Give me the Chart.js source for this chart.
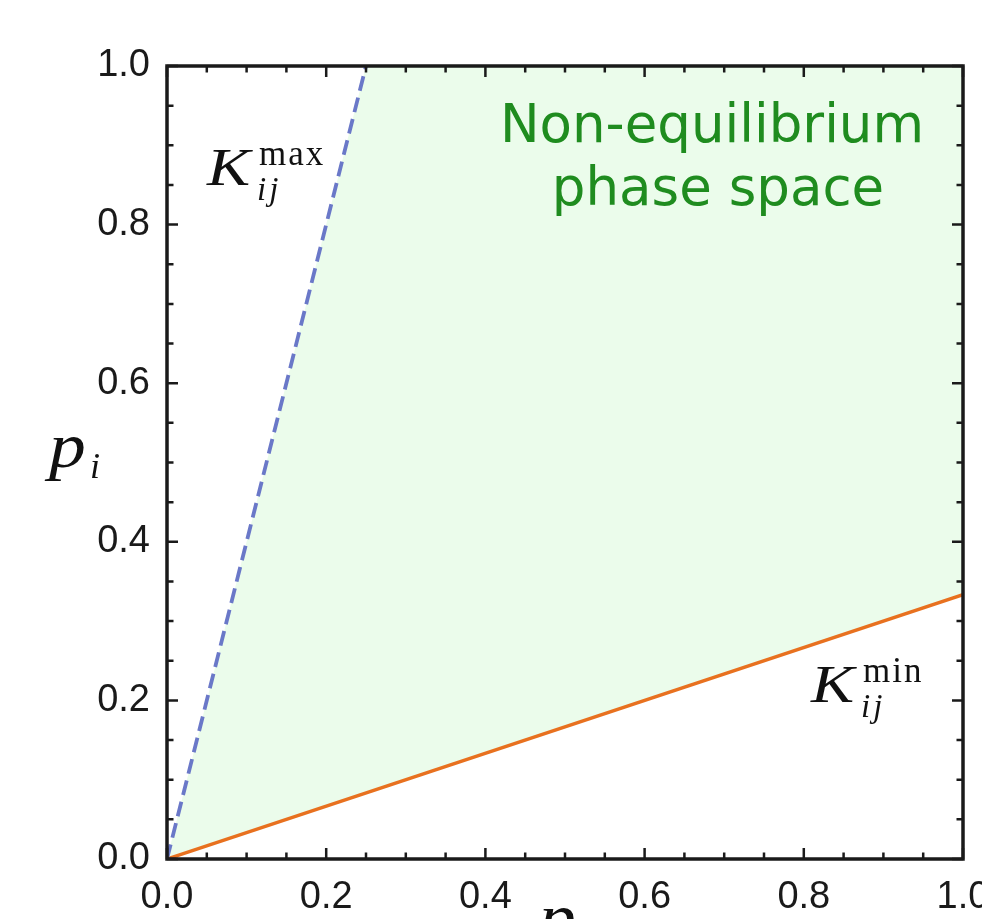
<!DOCTYPE html>
<html>
<head>
<meta charset="utf-8">
<script src="https://cdn.jsdelivr.net/npm/chart.js@4/dist/chart.umd.min.js"></script>
<style>
  html, body { margin: 0; padding: 0; background: #fff; }
  #wrap { width: 982px; height: 919px; }
</style>
</head>
<body>
<div id="wrap"><canvas id="chart" width="982" height="919"></canvas></div>
<script>
// boundary lines (p_j, p_i)
const kMaxX = [0, 0.25];
const kMaxY = [0, 1];
const kMinX = [0, 1];
const kMinY = [0, 0.3333];

// non-equilibrium region corners
const regionX = [0, 0.25, 1, 1];
const regionY = [0, 1, 1, 0.3333];

const tickLabels = ["0.0", "0.2", "0.4", "0.6", "0.8", "1.0"];
const minorStep = 0.05;

const toPoints = (xs, ys) => xs.map((x, i) => ({ x: x, y: ys[i] }));

const INK = "#1a1a1a";

// draws text stretched sideways (the serif italics are narrower than the original)
function wideText(ctx, str, x, y, sx) {
  ctx.save();
  ctx.translate(x, y);
  ctx.scale(sx, 1);
  ctx.fillText(str, 0, 0);
  ctx.restore();
}

// frame, inward ticks and the text annotations
const framePlugin = {
  id: "frame",
  afterDraw(chart) {
    const { ctx, chartArea: a, scales } = chart;
    const xs = scales.x, ys = scales.y;
    ctx.save();
    ctx.strokeStyle = INK;
    ctx.lineWidth = 2.5;
    ctx.lineCap = "butt";
    for (let k = 0; k <= 20; k++) {
      const v = k * minorStep;
      const major = k % 4 === 0;
      const len = major ? 11 : 6.5;
      const px = xs.getPixelForValue(v);
      const py = ys.getPixelForValue(v);
      ctx.beginPath();
      ctx.moveTo(px, a.bottom); ctx.lineTo(px, a.bottom - len);
      ctx.moveTo(px, a.top); ctx.lineTo(px, a.top + len);
      ctx.moveTo(a.left, py); ctx.lineTo(a.left + len, py);
      ctx.moveTo(a.right, py); ctx.lineTo(a.right - len, py);
      ctx.stroke();
    }
    ctx.lineWidth = 3.5;
    ctx.strokeRect(a.left, a.top, a.right - a.left, a.bottom - a.top);

    // region label
    ctx.fillStyle = "#1f8c1f";
    ctx.font = "53px 'DejaVu Sans'";
    ctx.textAlign = "center";
    ctx.textBaseline = "alphabetic";
    ctx.fillText("Non-equilibrium", 712, 142);
    ctx.fillText("phase space", 718, 205);

    // math labels
    ctx.fillStyle = "#111";
    ctx.textAlign = "left";
    const mathLabel = (x, y, sup) => {
      ctx.font = "italic 53px 'Liberation Serif'";
      ctx.letterSpacing = "0px";
      wideText(ctx, "K", x - 3, y, 1.22);
      ctx.font = "35px 'Liberation Serif'";
      ctx.letterSpacing = "2px";
      ctx.fillText(sup, x + 49, y - 20);
      ctx.font = "italic 33px 'Liberation Serif'";
      ctx.letterSpacing = "3px";
      ctx.fillText("ij", x + 47, y + 15);
      ctx.letterSpacing = "0px";
    };
    mathLabel(210, 185, "max");
    mathLabel(814, 702, "min");

    ctx.font = "italic 64px 'Liberation Serif'";
    wideText(ctx, "p", 49, 467, 1.15);
    ctx.font = "italic 36px 'Liberation Serif'";
    ctx.fillText("i", 90, 478);

    ctx.font = "italic 64px 'Liberation Serif'";
    wideText(ctx, "p", 539, 938, 1.15);
    ctx.font = "italic 36px 'Liberation Serif'";
    ctx.fillText("j", 580, 949);
    ctx.restore();
  }
};

new Chart(document.getElementById("chart"), {
  type: "scatter",
  data: {
    datasets: [
      {
        label: "region",
        data: toPoints(regionX, regionY),
        showLine: true,
        fill: "shape",
        backgroundColor: "rgb(235, 252, 235)",
        borderWidth: 0,
        pointRadius: 0,
        order: 3
      },
      {
        label: "K max",
        data: toPoints(kMaxX, kMaxY),
        showLine: true,
        borderColor: "#6a78c8",
        borderWidth: 3.8,
        borderDash: [15, 7],
        pointRadius: 0,
        order: 1
      },
      {
        label: "K min",
        data: toPoints(kMinX, kMinY),
        showLine: true,
        borderColor: "#e8711f",
        borderWidth: 3.5,
        pointRadius: 0,
        order: 2
      }
    ]
  },
  options: {
    responsive: false,
    devicePixelRatio: 1,
    animation: false,
    layout: { padding: { top: 66, right: 19, left: 0, bottom: 0 } },
    plugins: {
      legend: { display: false },
      tooltip: { enabled: false }
    },
    scales: {
      x: {
        type: "linear",
        position: "bottom",
        min: 0,
        max: 1,
        grid: { display: false },
        border: { display: false },
        ticks: {
          stepSize: 0.2,
          maxRotation: 0,
          autoSkip: false,
          padding: 8,
          color: INK,
          font: { family: "'Liberation Sans'", size: 38 },
          callback: (v) => tickLabels[Math.round(v * 5)]
        },
        afterFit: (s) => { s.height = 60; s.paddingLeft = 0; s.paddingRight = 0; }
      },
      y: {
        type: "linear",
        position: "left",
        min: 0,
        max: 1,
        grid: { display: false },
        border: { display: false },
        ticks: {
          stepSize: 0.2,
          padding: 9,
          color: INK,
          font: { family: "'Liberation Sans'", size: 38 },
          callback: (v) => tickLabels[Math.round(v * 5)]
        },
        afterFit: (s) => { s.width = 167; s.paddingTop = 0; s.paddingBottom = 0; }
      }
    }
  },
  plugins: [framePlugin]
});
</script>
</body>
</html>
